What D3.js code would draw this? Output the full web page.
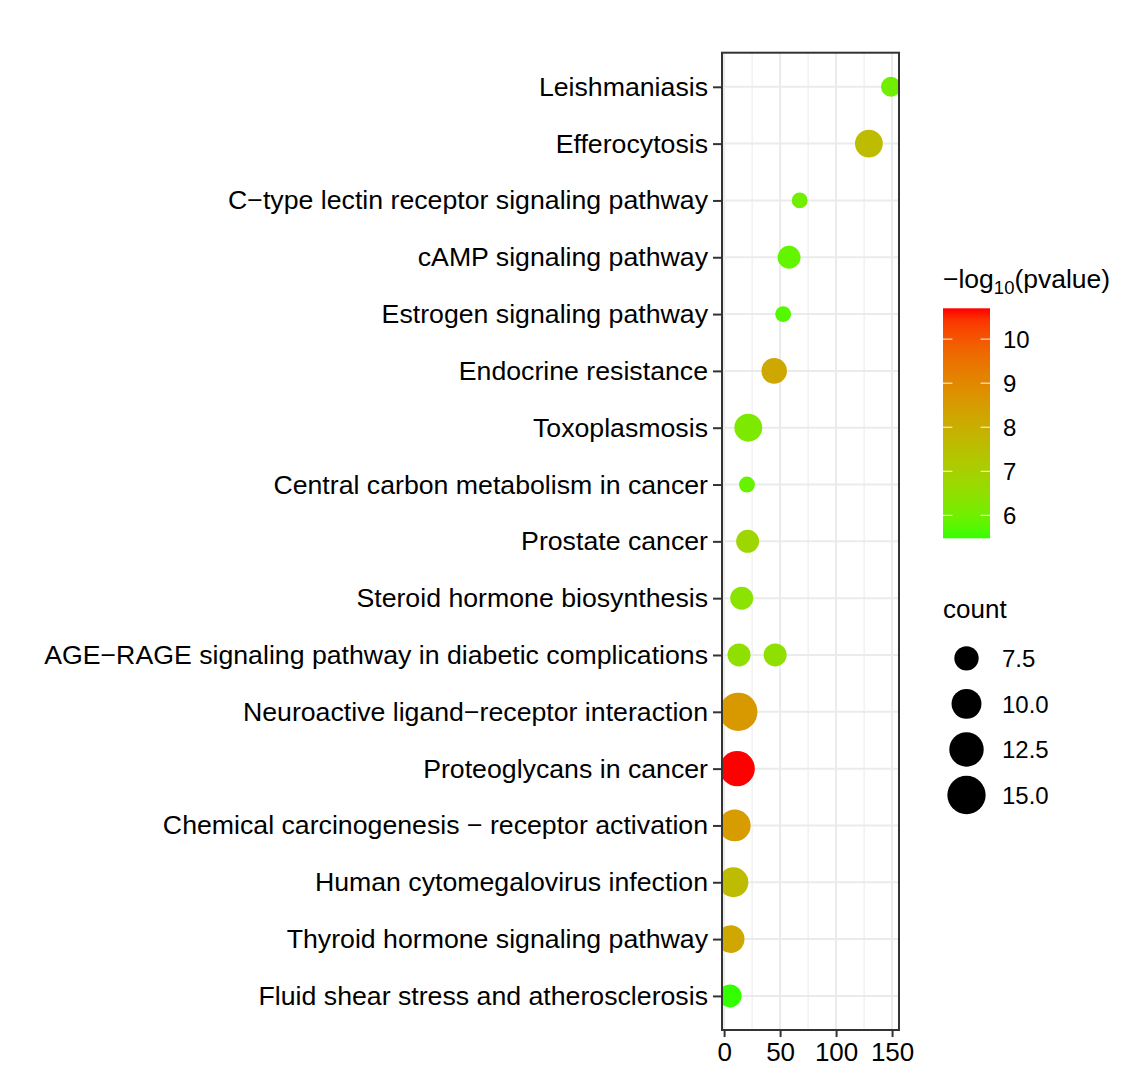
<!DOCTYPE html>
<html>
<head>
<meta charset="utf-8">
<script src="https://cdn.jsdelivr.net/npm/d3@7"></script>
<style>
  body { margin: 0; background: #fff; }
  text { font-family: "Liberation Sans", Arial, Helvetica, sans-serif; fill: #000; }
</style>
</head>
<body>
<div id="grafica"></div>
<script>
// Categorias (de arriba a abajo)
const categorias = [
  "Leishmaniasis",
  "Efferocytosis",
  "C\u2212type lectin receptor signaling pathway",
  "cAMP signaling pathway",
  "Estrogen signaling pathway",
  "Endocrine resistance",
  "Toxoplasmosis",
  "Central carbon metabolism in cancer",
  "Prostate cancer",
  "Steroid hormone biosynthesis",
  "AGE\u2212RAGE signaling pathway in diabetic complications",
  "Neuroactive ligand\u2212receptor interaction",
  "Proteoglycans in cancer",
  "Chemical carcinogenesis \u2212 receptor activation",
  "Human cytomegalovirus infection",
  "Thyroid hormone signaling pathway",
  "Fluid shear stress and atherosclerosis"
]

// Puntos (AGE-RAGE aparece dos veces)
const termino = [
  "Leishmaniasis",
  "Efferocytosis",
  "C\u2212type lectin receptor signaling pathway",
  "cAMP signaling pathway",
  "Estrogen signaling pathway",
  "Endocrine resistance",
  "Toxoplasmosis",
  "Central carbon metabolism in cancer",
  "Prostate cancer",
  "Steroid hormone biosynthesis",
  "AGE\u2212RAGE signaling pathway in diabetic complications",
  "AGE\u2212RAGE signaling pathway in diabetic complications",
  "Neuroactive ligand\u2212receptor interaction",
  "Proteoglycans in cancer",
  "Chemical carcinogenesis \u2212 receptor activation",
  "Human cytomegalovirus infection",
  "Thyroid hormone signaling pathway",
  "Fluid shear stress and atherosclerosis"
]
const enriquecimiento = [149, 129.3, 67.5, 58, 52.7, 44.7, 21.6, 20.4, 21, 15.7, 13.3, 45.6, 12.7, 11.7, 9.5, 8.3, 5.8, 5.3]
const conteo = [6, 9, 5, 7, 5, 8, 9, 5, 7, 7, 7, 7, 15, 13, 11, 10, 9, 7]
const logP = [6.0, 7.6, 6.0, 5.85, 5.7, 8.2, 6.2, 5.9, 6.8, 6.4, 6.5, 6.5, 8.6, 10.7, 8.5, 7.6, 8.2, 5.48]

// Ticks / leyendas
const xTicks = [0, 50, 100, 150]
const xMinorTicks = [25, 75, 125]
const colorTicks = [6, 7, 8, 9, 10]
const conteoTicks = [7.5, 10, 12.5, 15]

const anchoTotal = 1124
const altoTotal = 1083

const panel = { left: 722, right: 899, top: 52.7, bottom: 1030 }

const svg = d3.select("#grafica").append("svg")
  .attr("width", anchoTotal)
  .attr("height", altoTotal)

const datos = termino.map((t, i) => ({
  termino: t, x: enriquecimiento[i], count: conteo[i], p: logP[i]
}))

// Escaladores
const ext = d3.extent(enriquecimiento)
const pad = (ext[1] - ext[0]) * 0.05
const x = d3.scaleLinear()
  .domain([ext[0] - pad, ext[1] + pad])
  .range([panel.left, panel.right])

const y = d3.scalePoint()
  .domain(categorias)
  .range([panel.top, panel.bottom])
  .padding(0.6)

const pExt = d3.extent(logP)
const color = d3.scaleLinear()
  .domain(pExt)
  .range(["#33ff00", "#ff0000"])
  .interpolate(d3.interpolateLab)

const tamT = d3.scaleLinear().domain([4, 15]).range([0, 1]).clamp(true)
const diam = d3.scaleLinear().domain([0, 1]).range([6.2, 38.3])
const radio = v => diam(Math.sqrt(tamT(v))) / 2

// Panel
svg.append("defs").append("clipPath").attr("id", "clipPanel")
  .append("rect")
  .attr("x", panel.left).attr("y", panel.top)
  .attr("width", panel.right - panel.left)
  .attr("height", panel.bottom - panel.top)

const grid = svg.append("g")
grid.selectAll(".minor").data(xMinorTicks).join("line")
  .attr("x1", d => x(d)).attr("x2", d => x(d))
  .attr("y1", panel.top).attr("y2", panel.bottom)
  .attr("stroke", "#ebebeb").attr("stroke-width", 1)
grid.selectAll(".majorx").data(xTicks).join("line")
  .attr("x1", d => x(d)).attr("x2", d => x(d))
  .attr("y1", panel.top).attr("y2", panel.bottom)
  .attr("stroke", "#ebebeb").attr("stroke-width", 2)
grid.selectAll(".majory").data(categorias).join("line")
  .attr("x1", panel.left).attr("x2", panel.right)
  .attr("y1", d => y(d)).attr("y2", d => y(d))
  .attr("stroke", "#ebebeb").attr("stroke-width", 2)

// Puntos
svg.append("g")
  .attr("clip-path", "url(#clipPanel)")
  .selectAll("circle")
  .data(datos)
  .join("circle")
  .attr("cx", d => x(d.x))
  .attr("cy", d => y(d.termino))
  .attr("r", d => radio(d.count))
  .attr("fill", d => color(d.p))

// Borde
svg.append("rect")
  .attr("x", panel.left).attr("y", panel.top)
  .attr("width", panel.right - panel.left)
  .attr("height", panel.bottom - panel.top)
  .attr("fill", "none").attr("stroke", "#333").attr("stroke-width", 2)

// Ejes
const yAxis = svg.append("g")
  .attr("transform", `translate(${panel.left},0)`)
  .call(d3.axisLeft(y).tickSize(9).tickPadding(5))
yAxis.select(".domain").remove()
yAxis.selectAll(".tick line").attr("stroke", "#333").attr("stroke-width", 2)
yAxis.selectAll(".tick text")
  .style("font-size", "26.7px")
  .attr("fill", "#000")

const xAxis = svg.append("g")
  .attr("transform", `translate(0,${panel.bottom})`)
  .call(d3.axisBottom(x).tickValues(xTicks).tickSize(7).tickPadding(6))
xAxis.select(".domain").remove()
xAxis.selectAll(".tick line").attr("stroke", "#333").attr("stroke-width", 2)
xAxis.selectAll(".tick text")
  .style("font-size", "26px")
  .attr("fill", "#000")

// Leyenda de color
const cb = { x: 943, y0: 308.3, y1: 538.3, w: 47 }
const grad = svg.select("defs").append("linearGradient")
  .attr("id", "gradP").attr("x1", 0).attr("x2", 0).attr("y1", 1).attr("y2", 0)
d3.range(0, 1.0001, 0.05).forEach(t => {
  grad.append("stop")
    .attr("offset", t)
    .attr("stop-color", color(pExt[0] + t * (pExt[1] - pExt[0])))
})
svg.append("rect")
  .attr("x", cb.x).attr("y", cb.y0)
  .attr("width", cb.w).attr("height", cb.y1 - cb.y0)
  .attr("fill", "url(#gradP)")

const cy = d3.scaleLinear().domain(pExt).range([cb.y1, cb.y0])
const cbTicks = svg.append("g")
colorTicks.forEach(v => {
  cbTicks.append("line")
    .attr("x1", cb.x).attr("x2", cb.x + cb.w * 0.2)
    .attr("y1", cy(v)).attr("y2", cy(v))
    .attr("stroke", "#fff").attr("stroke-opacity", 0.8).attr("stroke-width", 1.2)
  cbTicks.append("line")
    .attr("x1", cb.x + cb.w * 0.8).attr("x2", cb.x + cb.w)
    .attr("y1", cy(v)).attr("y2", cy(v))
    .attr("stroke", "#fff").attr("stroke-opacity", 0.8).attr("stroke-width", 1.2)
  cbTicks.append("text")
    .attr("x", 1003).attr("y", cy(v)).attr("dy", "0.36em")
    .style("font-size", "24px")
    .text(v)
})

const tituloColor = svg.append("text")
  .attr("x", cb.x).attr("y", 288)
  .style("font-size", "26.5px")
tituloColor.append("tspan").text("\u2212log")
tituloColor.append("tspan").attr("dy", 6).style("font-size", "18.5px").text("10")
tituloColor.append("tspan").attr("dy", -6).text("(pvalue)")

// Leyenda de tamano
svg.append("text")
  .attr("x", 943).attr("y", 618)
  .style("font-size", "26px")
  .text("count")

const keyY = d3.scaleLinear().domain([0, conteoTicks.length - 1]).range([658.3, 795])
const claves = svg.append("g")
conteoTicks.forEach((v, i) => {
  claves.append("circle")
    .attr("cx", 966.5).attr("cy", keyY(i))
    .attr("r", radio(v))
    .attr("fill", "#000")
  claves.append("text")
    .attr("x", 1002).attr("y", keyY(i)).attr("dy", "0.36em")
    .style("font-size", "24px")
    .text(d3.format(".1f")(v))
})
</script>
</body>
</html>
